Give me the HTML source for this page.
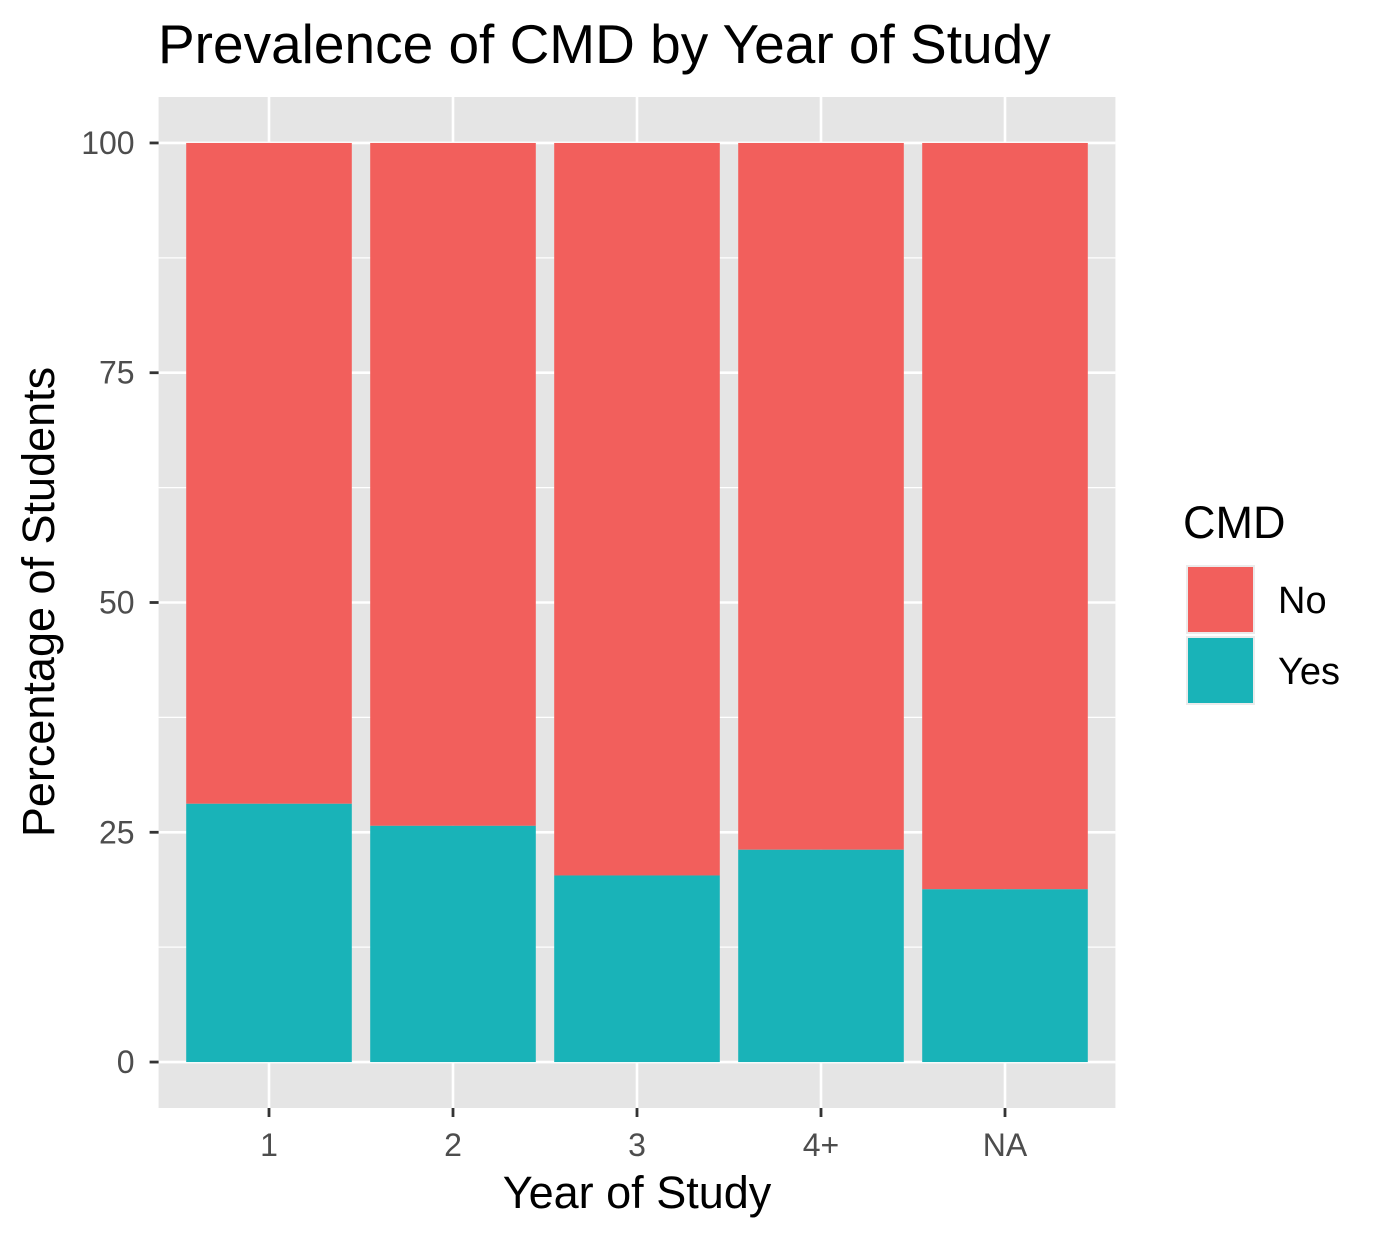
<!DOCTYPE html>
<html><head><meta charset="utf-8"><style>
body{margin:0;background:#fff;}
svg text{font-family:"Liberation Sans",sans-serif;}
</style></head><body>
<svg width="1387" height="1240" xmlns="http://www.w3.org/2000/svg">
<text x="158" y="63" font-size="55" fill="#000">Prevalence of CMD by Year of Study</text>
<rect x="158.6" y="97" width="956.8" height="1011" fill="#e5e5e5"/>
<g id="grid"></g><g id="bars"></g><g id="axes"></g>
<text x="637" y="1208" font-size="45" text-anchor="middle" fill="#000">Year of Study</text>
<text transform="translate(54,602) rotate(-90)" font-size="45" text-anchor="middle" fill="#000">Percentage of Students</text>
<g>
<text x="1183" y="538" font-size="45" fill="#000">CMD</text>
<rect x="1187" y="566" width="67" height="67" fill="#f25f5c" stroke="#ebebeb" stroke-width="2"/>
<rect x="1187" y="637" width="67" height="67" fill="#19b3b8" stroke="#ebebeb" stroke-width="2"/>
<text x="1278" y="613" font-size="38" fill="#000">No</text>
<text x="1278" y="684" font-size="38" fill="#000">Yes</text>
</g>
</svg>
<script>
const categories=["1","2","3","4+","NA"];
const yesValues=[28.1,25.7,20.3,23.1,18.8];
const noValues=[71.9,74.3,79.7,76.9,81.2];
const yTicks=[0,25,50,75,100];
const ns="http://www.w3.org/2000/svg";
const L=158.6,R=1115.4,T=97,B=1108;
const xs=i=>L+(i+1-0.4)/(categories.length+0.2)*(R-L);
const ys=v=>B-(v+5)/110*(B-T);
const bw=0.9*(R-L)/(categories.length+0.2);
function mk(tag,attrs,parent){const e=document.createElementNS(ns,tag);for(const k in attrs)e.setAttribute(k,attrs[k]);document.getElementById(parent).appendChild(e);return e;}
for(let i=0;i<yTicks.length;i++){
 const y=ys(yTicks[i]);
 const g=mk('line',{x1:L,x2:R,y1:y,y2:y,stroke:'#fff','stroke-width':2.6},'grid');
 
 
 if(i<yTicks.length-1){const ym=ys((yTicks[i]+yTicks[i+1])/2);
 const m=mk('line',{x1:L,x2:R,y1:ym,y2:ym,stroke:'#fff','stroke-width':1.3},'grid');
 
 }
 const t=mk('line',{x1:L-9,x2:L,y1:y,y2:y,stroke:'#333','stroke-width':2.8},'axes');
 
 
 const tx=mk('text',{x:L-24,y:y+11,'font-size':32,'text-anchor':'end',fill:'#4d4d4d'},'axes');
 tx.textContent=yTicks[i];
 
 
}
categories.forEach((c,i)=>{
 const x=xs(i);
 const g=mk('line',{x1:x,x2:x,y1:T,y2:B,stroke:'#fff','stroke-width':2.6},'grid');
 
 
 const yb=ys(0),yy=ys(yesValues[i]),yn=ys(yesValues[i]+noValues[i]);
 const r1=mk('rect',{x:x-bw/2,y:yn,width:bw,height:yy-yn,fill:'#f25f5c'},'bars');
 
 
 const r2=mk('rect',{x:x-bw/2,y:yy,width:bw,height:yb-yy,fill:'#19b3b8'},'bars');
 
 
 const t=mk('line',{x1:x,x2:x,y1:B,y2:B+9,stroke:'#333','stroke-width':2.8},'axes');
 
 
 const tx=mk('text',{x:x,y:B+48,'font-size':32,'text-anchor':'middle',fill:'#4d4d4d'},'axes');
 tx.textContent=c;
 
 
});
</script>
</body></html>
